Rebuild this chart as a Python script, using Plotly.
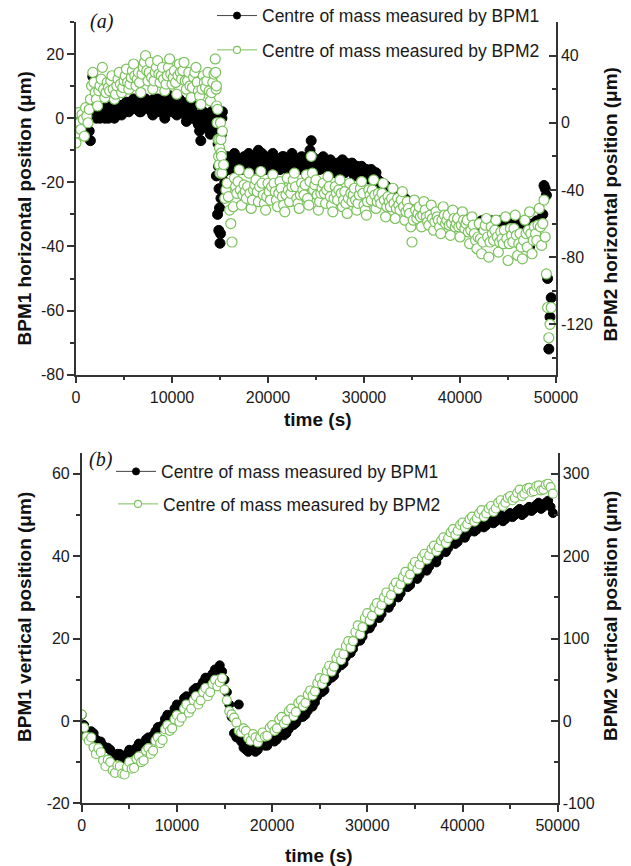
import plotly.graph_objects as go

# ---------------- data ----------------
# panel (a): horizontal position; readings every 250 s plus the readings in between
T_TOP = list(range(0, 49501, 250))
T_TOP_MID = list(range(125, 49500, 250))
BPM1_H = [-1, 1, -2, 0, -3, 1, -7, 13, 1, 3,
          0, 2, 0, 3, 1, 4, 0, 2, 4, 1,
          3, 5, 2, 4, 6, 3, 5, 2, 4, 6,
          3, 5, 1, 4, 6, 2, 5, 0, 3, 7,
          2, 5, 1, 6, 3, 4, -1, 3, 0, 4,
          1, -2, -7, 2, -3, 1, -5, 0, 3, -30,
          -39, 2, -20, -12, -16, -13, -11, -15, -13, -16,
          -12, -14, -11, -16, -13, -15, -10, -13, -15, -12,
          -16, -13, -11, -15, -13, -16, -12, -14, -16, -13,
          -11, -15, -13, -16, -12, -14, -15, -12, -7, -14,
          -16, -13, -15, -12, -16, -14, -13, -15, -17, -14,
          -16, -13, -17, -15, -16, -14, -18, -15, -17, -15,
          -18, -16, -19, -16, -19, -17, -21, -20, -22, -21,
          -23, -22, -24, -23, -25, -24, -26, -25, -27, -26,
          -28, -26, -28, -27, -29, -28, -30, -29, -30, -29,
          -31, -30, -31, -30, -32, -31, -32, -31, -33, -32,
          -33, -32, -34, -33, -34, -32, -34, -33, -35, -32,
          -34, -33, -35, -32, -34, -33, -35, -32, -34, -33,
          -35, -32, -34, -31, -34, -33, -35, -32, -34, -40,
          -33, -35, -32, -34, -33, -21, -24, -72, -56]
BPM1_H_MID = [0, -1, 1, -2, 0, -4, 3, 2, 0, 2,
              1, 3, 2, 0, 3, 2, 1, 3, 2, 4,
              4, 3, 5, 3, 5, 4, 2, 5, 6, 4,
              4, 2, 6, 3, 5, 4, 2, 6, 5, 4,
              3, 6, 4, 2, 5, 1, 2, 4, 2, 1,
              -1, -4, -2, 0, -1, -2, 2, 1, -18, -35,
              -15, -17, -14, -13, -15, -14, -12, -16, -14, -13,
              -15, -12, -14, -16, -12, -13, -14, -11, -16, -14,
              -14, -12, -16, -13, -14, -15, -12, -13, -15, -14,
              -12, -16, -14, -13, -15, -13, -14, -10, -12, -15,
              -14, -16, -13, -15, -14, -16, -14, -15, -16, -15,
              -15, -16, -14, -16, -15, -17, -16, -16, -16, -17,
              -17, -18, -17, -18, -18, -19, -20, -21, -22, -22,
              -23, -23, -24, -24, -25, -25, -26, -26, -27, -27,
              -27, -27, -28, -28, -29, -29, -30, -30, -30, -30,
              -31, -31, -31, -31, -32, -32, -32, -32, -33, -33,
              -33, -33, -34, -33, -33, -33, -34, -34, -33, -33,
              -34, -34, -33, -33, -34, -34, -33, -33, -34, -34,
              -33, -33, -33, -32, -34, -34, -33, -33, -36, -37,
              -34, -34, -33, -33, -30, -22, -50, -62]
BPM2_H = [-12, 6, -4, 2, 9, 0, 14, 30, 18, 10,
          22, 33, 15, 24, 19, 28, 14, 22, 30, 18,
          25, 32, 20, 27, 35, 22, 30, 18, 33, 40,
          25, 36, 20, 30, 37, 24, 33, 19, 28, 38,
          23, 31, 17, 35, 26, 36, 20, 30, 15, 27,
          33, 19, 11, 28, 21, 30, 13, 24, 38, 8,
          -30, -5, -45, -36, -52, -71, -33, -42, -28, -49,
          -37, -45, -30, -51, -40, -34, -47, -29, -43, -52,
          -36, -46, -31, -41, -50, -35, -44, -53, -33, -47,
          -38, -30, -45, -51, -36, -43, -31, -49, -20, -40,
          -34, -52, -42, -36, -48, -32, -44, -53, -38, -46,
          -34, -50, -41, -54, -36, -47, -39, -52, -43, -35,
          -49, -55, -40, -46, -34, -51, -42, -48, -36, -56,
          -44, -50, -39, -57, -45, -52, -41, -58, -47, -54,
          -71, -46, -57, -50, -62, -47, -56, -61, -49, -64,
          -53, -58, -66, -50, -60, -55, -67, -52, -62, -57,
          -68, -53, -63, -58, -72, -56, -66, -75, -60, -78,
          -64, -57, -80, -62, -70, -58, -77, -65, -72, -56,
          -82, -63, -71, -55, -79, -66, -81, -58, -74, -53,
          -78, -62, -70, -51, -73, -46, -90, -128, -110]
BPM2_H_MID = [-6, 0, 5, -8, 4, 8, 22, 24, 14, 19,
              26, 20, 18, 21, 25, 20, 17, 26, 23, 21,
              28, 24, 23, 31, 28, 26, 24, 29, 36, 31,
              30, 27, 25, 33, 29, 28, 26, 23, 33, 29,
              27, 24, 28, 30, 31, 25, 25, 22, 21, 30,
              24, 16, 20, 24, 25, 19, 18, 29, 22, -10,
              -18, -25, -40, -44, -60, -50, -38, -35, -40, -43,
              -41, -38, -42, -46, -37, -41, -38, -36, -48, -44,
              -41, -38, -36, -46, -42, -39, -49, -43, -40, -42,
              -34, -38, -48, -43, -40, -37, -45, -35, -30, -37,
              -43, -47, -39, -42, -40, -38, -49, -45, -42, -40,
              -42, -46, -48, -45, -42, -43, -46, -48, -39, -42,
              -52, -47, -43, -40, -43, -47, -45, -42, -46, -50,
              -47, -45, -48, -51, -49, -46, -50, -53, -51, -62,
              -58, -52, -54, -56, -55, -52, -59, -55, -57, -59,
              -56, -62, -58, -55, -58, -61, -60, -57, -60, -62,
              -61, -58, -60, -65, -64, -61, -70, -68, -69, -71,
              -61, -68, -71, -66, -64, -68, -71, -69, -64, -69,
              -72, -67, -63, -67, -72, -74, -70, -66, -64, -66,
              -70, -66, -61, -62, -60, -68, -110, -120]
# extra readings around the beam jump near 14800 s
T_TOP_JUMP = [14550, 14600, 14650, 14700, 14800, 14850, 14900, 14950, 15050, 15100, 15150, 15200]
BPM1_H_JUMP = [2, -1, -3, 1, -8, -15, -22, -28, -36, -25, -5, 0]
BPM2_H_JUMP = [30, 20, 10, 0, -10, -20, -25, -15, 0, -10, -20, -30]

# panel (b): vertical position; readings every 500 s plus the readings in between
T_BOT = list(range(0, 49501, 500))
T_BOT_MID = list(range(250, 49500, 500))
BPM1_V = [1.5, -2.5, -2.5, -4.5, -5, -6.5, -7, -8.5, -8, -9.5,
          -7, -7.5, -5.5, -6, -4, -3.5, -1.5, -1, 1.5, 1.5,
          4, 4, 6, 6, 8, 8.5, 10.5, 10.5, 12.5, 13.5,
          10, 4, -3, 4, -6.5, -7.5, -6.5, -7, -5.5, -6,
          -4.5, -4.5, -3, -3, -1, -0.5, 1.5, 1.5, 3.5, 4.5,
          7, 7.5, 10.5, 11, 13.5, 14, 16.5, 17.5, 20, 20.5,
          23, 23.5, 25.5, 26, 28, 28.5, 30.5, 31, 33, 33,
          35, 35.5, 37.5, 37.5, 39.5, 40, 42, 42, 44, 43.5,
          45.5, 45.5, 47, 46.5, 48, 47.5, 49, 48.5, 50, 49,
          50.5, 50, 51.5, 50.5, 52, 51.5, 53, 52, 53.5, 50.5]
BPM1_V_MID = [-1, -3.5, -3, -5, -6, -6.5, -8, -8, -9, -8,
              -7.5, -6.5, -6, -4.5, -4.5, -2.5, -1.5, 0.5, 1, 3,
              3.5, 5.5, 5.5, 7.5, 8, 9.5, 10.5, 11.5, 12.5, 12,
              7, 1, -4, -5, -7, -6.5, -7.5, -6, -6, -5,
              -5, -3.5, -3.5, -2, -1, 0.5, 1, 2.5, 3.5, 6,
              7, 9.5, 10.5, 12.5, 13.5, 15.5, 16.5, 19, 19.5, 22,
              22.5, 25, 25, 27.5, 27.5, 30, 30, 32.5, 32.5, 34.5,
              34.5, 37, 36.5, 39, 38.5, 41.5, 41, 43.5, 43, 45,
              44.5, 46.5, 46, 47.5, 47, 48.5, 48, 49.5, 48.5, 50,
              49.5, 51, 50, 51.5, 51, 52.5, 51.5, 53, 52]
BPM2_V = [8, -19, -20, -40, -38, -55, -50, -63, -55, -65,
          -50, -57, -43, -48, -33, -36, -20, -23, -5, -9,
          7, 4, 20, 15, 30, 25, 40, 35, 50, 47,
          38, 12, 4, -12, -9, -21, -16, -26, -14, -18,
          -5, -9, 5, 1, 15, 11, 25, 22, 37, 36,
          52, 51, 67, 66, 82, 81, 97, 97, 116, 114,
          131, 128, 143, 141, 156, 153, 168, 166, 181, 178,
          193, 190, 203, 201, 213, 211, 223, 222, 233, 231,
          241, 239, 248, 246, 256, 252, 261, 258, 268, 265,
          273, 271, 281, 276, 283, 279, 286, 281, 288, 276]
BPM2_V_MID = [-8, -24, -32, -33, -48, -47, -60, -54, -64, -56,
              -58, -46, -50, -36, -40, -24, -27, -10, -12, 2,
              -1, 15, 10, 25, 20, 35, 30, 45, 42, 52,
              25, 8, -2, -14, -12, -24, -20, -20, -19, -8,
              -12, 2, -3, 12, 6, 22, 18, 32, 31, 46,
              45, 61, 60, 76, 74, 91, 89, 108, 105, 125,
              122, 138, 134, 150, 147, 163, 160, 175, 172, 188,
              184, 199, 196, 209, 206, 219, 216, 229, 226, 238,
              235, 245, 242, 252, 248, 258, 254, 265, 261, 271,
              268, 277, 273, 282, 278, 285, 280, 287, 284]

X_TICKS = [0, 10000, 20000, 30000, 40000, 50000]
X_LABELS = ["0", "10000", "20000", "30000", "40000", "50000"]
YA_L_TICKS = [-80, -60, -40, -20, 0, 20]
YA_L_LABELS = ["-80", "-60", "-40", "-20", "0", "20"]
YA_R_TICKS = [-120, -80, -40, 0, 40]
YA_R_LABELS = ["-120", "-80", "-40", "0", "40"]
YB_L_TICKS = [-20, 0, 20, 40, 60]
YB_L_LABELS = ["-20", "0", "20", "40", "60"]
YB_R_TICKS = [-100, 0, 100, 200, 300]
YB_R_LABELS = ["-100", "0", "100", "200", "300"]

NAME1 = "Centre of mass measured by BPM1"
NAME2 = "Centre of mass measured by BPM2"

# ---------------- style ----------------
W, H = 631, 866
GREEN = "rgb(122,194,92)"
AXC = "#333333"
FONT = "Liberation Sans, Arial, sans-serif"


def px(x):
    return x / W


def py(y):
    return 1 - y / H


def merge(*groups):
    pairs = []
    for t, v in groups:
        pairs += list(zip(t, v))
    pairs.sort(key=lambda p: p[0])
    return [p[0] for p in pairs], [p[1] for p in pairs]


xa1, ya1 = merge((T_TOP, BPM1_H), (T_TOP_MID, BPM1_H_MID), (T_TOP_JUMP, BPM1_H_JUMP))
xa2, ya2 = merge((T_TOP, BPM2_H), (T_TOP_MID, BPM2_H_MID), (T_TOP_JUMP, BPM2_H_JUMP))
xb1, yb1 = merge((T_BOT, BPM1_V), (T_BOT_MID, BPM1_V_MID))
xb2, yb2 = merge((T_BOT, BPM2_V), (T_BOT_MID, BPM2_V_MID))

fig = go.Figure()


def bm(size):
    return dict(symbol="circle", size=size, color="black", line=dict(color="black", width=1))


def gm(size, lw=1.1):
    return dict(symbol="circle", size=size, color="white", line=dict(color=GREEN, width=lw))


# data traces
fig.add_trace(go.Scatter(x=xa1, y=ya1, mode="markers", name=NAME1,
                         marker=bm(10), xaxis="x", yaxis="y", showlegend=False))
fig.add_trace(go.Scatter(x=xa2, y=ya2, mode="markers", name=NAME2,
                         marker=gm(10, 1.2), xaxis="x", yaxis="y2", showlegend=False))
fig.add_trace(go.Scatter(x=xb1, y=yb1, mode="markers", name=NAME1,
                         marker=bm(9), xaxis="x2", yaxis="y3", showlegend=False))
fig.add_trace(go.Scatter(x=xb2, y=yb2, mode="markers", name=NAME2,
                         marker=gm(9, 1.2), xaxis="x2", yaxis="y4", showlegend=False))

# legend entries (line + marker symbol as in the original)
for name, mk, lc, ya, xa, lg in [(NAME1, bm(7), "#444444", "y", "x", "legend"),
                                 (NAME2, gm(7), GREEN, "y2", "x", "legend2"),
                                 (NAME1, bm(7), "#444444", "y3", "x2", "legend3"),
                                 (NAME2, gm(7), GREEN, "y4", "x2", "legend4")]:
    fig.add_trace(go.Scatter(x=[None], y=[None], mode="lines+markers", name=name,
                             marker=mk, line=dict(color=lc, width=1),
                             xaxis=xa, yaxis=ya, legend=lg, showlegend=True))

tickfont = dict(family=FONT, size=16, color="#1a1a1a")


def xax(domain, anchor):
    return dict(domain=domain, anchor=anchor, range=[0, 50000], showgrid=False, zeroline=False,
                showline=True, linecolor=AXC, linewidth=1.5, ticks="outside", ticklen=7,
                tickwidth=1.5, tickcolor=AXC, tickmode="array", tickvals=X_TICKS, ticktext=X_LABELS,
                tickfont=tickfont, automargin=False,
                minor=dict(tick0=0, dtick=5000, ticks="outside", ticklen=4, tickwidth=1.5,
                           tickcolor=AXC, showgrid=False))


def yax(domain, anchor, rng, tv, tt, mdt, side="left", overlaying=None):
    tk = "outside" if side == "left" else "inside"
    d = dict(domain=domain, anchor=anchor, range=rng, showgrid=False, zeroline=False,
             showline=True, linecolor=AXC, linewidth=1.5,
             ticks=tk, ticklen=7, tickwidth=1.5,
             tickcolor=AXC, tickmode="array", tickvals=tv, ticktext=tt, tickfont=tickfont,
             side=side, automargin=False,
             minor=dict(tick0=0, dtick=mdt, ticks=tk,
                        ticklen=4, tickwidth=1.5, tickcolor=AXC, showgrid=False))
    if overlaying:
        d["overlaying"] = overlaying
    return d


dom_xa = [px(76), px(556)]
dom_ya = [py(374.7), py(22)]
dom_xb = [px(81.7), px(557.7)]
dom_yb = [py(803.3), py(453.3)]

fig.update_layout(
    width=W, height=H, margin=dict(l=0, r=0, t=0, b=0, pad=0, autoexpand=False),
    paper_bgcolor="white", plot_bgcolor="rgba(0,0,0,0)",
    xaxis=xax(dom_xa, "y"),
    yaxis=yax(dom_ya, "x", [-80, 30], YA_L_TICKS, YA_L_LABELS, 10),
    yaxis2=yax(dom_ya, "x", [-150, 60], YA_R_TICKS, YA_R_LABELS, 20, side="right", overlaying="y"),
    xaxis2=xax(dom_xb, "y3"),
    yaxis3=yax(dom_yb, "x2", [-20, 65], YB_L_TICKS, YB_L_LABELS, 10),
    yaxis4=yax(dom_yb, "x2", [-100, 325], YB_R_TICKS, YB_R_LABELS, 50, side="right", overlaying="y3"),
    showlegend=True,
)

legfont = dict(family=FONT, size=17.5, color="#1a1a1a")
for key, lx, ly in [("legend", 212, 15.7), ("legend2", 212, 50),
                    ("legend3", 111, 471.5), ("legend4", 113, 504)]:
    fig.update_layout({key: dict(x=px(lx), y=py(ly), xanchor="left", yanchor="middle",
                                 bgcolor="rgba(0,0,0,0)", borderwidth=0, font=legfont,
                                 itemwidth=40)})

ann_font = dict(family=FONT, size=19, color="#111111")
anns = [
    ("<b>BPM1 horizontal position (μm)</b>", 24.5, 209, -90),
    ("<b>BPM2 horizontal position (μm)</b>", 610.5, 205, -90),
    ("<b>time (s)</b>", 318, 419, 0),
    ("<b>BPM1 vertical position (μm)</b>", 24, 617, -90),
    ("<b>BPM2 vertical position (μm)</b>", 610, 616, -90),
    ("<b>time (s)</b>", 319, 855, 0),
]
for text, ax_, ay_, ang in anns:
    fig.add_annotation(text=text, x=px(ax_), y=py(ay_), xref="paper", yref="paper",
                       showarrow=False, textangle=ang, font=ann_font,
                       xanchor="center", yanchor="middle")

for text, ax_, ay_ in [("<i>(a)</i>", 101.5, 21), ("<i>(b)</i>", 100.5, 459)]:
    fig.add_annotation(text=text, x=px(ax_), y=py(ay_), xref="paper", yref="paper",
                       showarrow=False, font=dict(family="Liberation Serif, Times New Roman, serif",
                                                  size=20, color="#111111"),
                       xanchor="center", yanchor="middle")

fig.write_html("out.html")
